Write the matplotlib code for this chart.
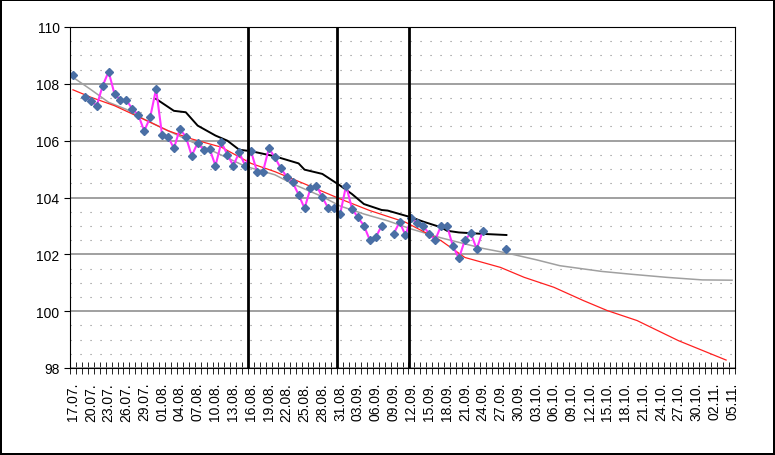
import numpy as np
import matplotlib
matplotlib.use("Agg")
import matplotlib.pyplot as plt
from matplotlib.ticker import MultipleLocator, FixedLocator
import datetime as dt

nan = float('nan')
start = dt.date(2000, 7, 17)
n_days = 112
tick_labels = [(start + dt.timedelta(days=d)).strftime("%d.%m.") for d in range(0, n_days, 3)]

# measured values (day index 0..73)
pink = [108.32, nan, 107.53, 107.41, 107.23, 107.93, 108.43, 107.64, 107.43, 107.43,
        107.11, 106.91, 106.34, 106.82, 107.82, 106.21, 106.14, 105.73, 106.41, 106.14,
        105.47, 105.92, 105.68, 105.72, 105.12, 105.94, 105.51, 105.12, 105.59, 105.12,
        105.62, 104.91, 104.91, 105.73, 105.41, 105.03, 104.73, 104.53, 104.10, 103.62,
        104.32, 104.42, 104.01, 103.62, 103.62, 103.42, 104.42, 103.60, 103.30, 103.01,
        102.50, 102.60, 103.01, nan, 102.72, 103.13, 102.68, 103.27, 103.10, 102.99,
        102.72, 102.50, 103.01, 103.00, 102.28, 101.86, 102.50, 102.74, 102.19, 102.81,
        nan, nan, nan, 102.20]

black_days = [14, 17, 19, 21, 24, 26, 28, 30, 34, 38, 39, 42, 45, 47, 49, 52, 53, 55, 57, 59, 62, 63, 65, 69, 73]
black_vals = [107.47, 107.05, 107.0, 106.53, 106.18, 106.0, 105.68, 105.63, 105.45, 105.2, 104.98, 104.83,
              104.42, 104.12, 103.77, 103.56, 103.54, 103.42, 103.3, 103.15, 102.95, 102.83, 102.77, 102.72, 102.68]

gray_days = [0, 3, 6, 9, 12, 15, 20, 24, 29, 34, 37, 42, 45, 49, 53, 57, 62, 69, 73, 78, 82, 89, 94, 100, 106, 111]
gray_vals = [108.23, 107.8, 107.35, 107.1, 106.75, 106.45, 105.96, 105.59, 105.1, 104.8, 104.48, 104.03, 103.7,
             103.42, 103.18, 102.89, 102.58, 102.21, 102.05, 101.81, 101.6, 101.4, 101.3, 101.19, 101.1, 101.09]

red_days = [0, 3, 7, 10, 13, 16, 20, 25, 30, 34, 39, 45, 50, 56, 62, 66, 72, 76, 81, 86, 90, 95, 102, 110]
red_vals = [107.79, 107.53, 107.23, 106.94, 106.65, 106.35, 106.06, 105.77, 105.2, 104.91, 104.48, 103.95,
            103.54, 103.13, 102.48, 101.89, 101.54, 101.19, 100.84, 100.37, 100.02, 99.67, 98.96, 98.28]

vlines = [29.5, 44.5, 56.6]

fig = plt.figure(figsize=(7.75, 4.56), dpi=100)
fig.patch.set_edgecolor('black')
fig.patch.set_linewidth(1.5)
ax = fig.add_axes([70/775, 1-369/456, 665/775, 341/456])

ax.set_xlim(-0.5, n_days - 0.5)
ax.set_ylim(98, 110)
ax.yaxis.set_major_locator(MultipleLocator(2))
ax.yaxis.set_minor_locator(MultipleLocator(0.5))
ax.grid(which='major', axis='y', color='#999999', lw=1.3)
ax.grid(which='minor', axis='y', color='#888888', lw=0.8, linestyle=(0, (1, 8)))
ax.set_axisbelow(True)

ax.plot(gray_days, gray_vals, color='#a0a0a0', lw=1.1)
ax.plot(red_days, red_vals, color='#ff2020', lw=0.9)
ax.plot(black_days, black_vals, color='black', lw=1.4)
ax.plot(range(len(pink)), pink, color='#ff33ff', lw=1.5, marker='D', markersize=4,
        markerfacecolor='#4a6fa5', markeredgecolor='#4a6fa5')
for v in vlines:
    ax.axvline(v, color='black', lw=2)

ax.xaxis.set_major_locator(FixedLocator(np.arange(0, n_days, 3)))
ax.set_xticklabels(tick_labels, rotation=90, fontsize=10, family='Liberation Sans')
ax.xaxis.set_minor_locator(FixedLocator(np.arange(-0.5, n_days, 1)))
ax.tick_params(axis='x', which='major', length=0, pad=10)
ax.tick_params(axis='x', which='minor', length=8, direction='inout')
ax.tick_params(axis='y', which='major', length=4, labelsize=10)
ax.tick_params(axis='y', which='minor', length=0)
for lab in ax.get_yticklabels():
    lab.set_family('Liberation Sans')
for s in ax.spines.values():
    s.set_color('black')

fig.savefig('out.png', dpi=100)
